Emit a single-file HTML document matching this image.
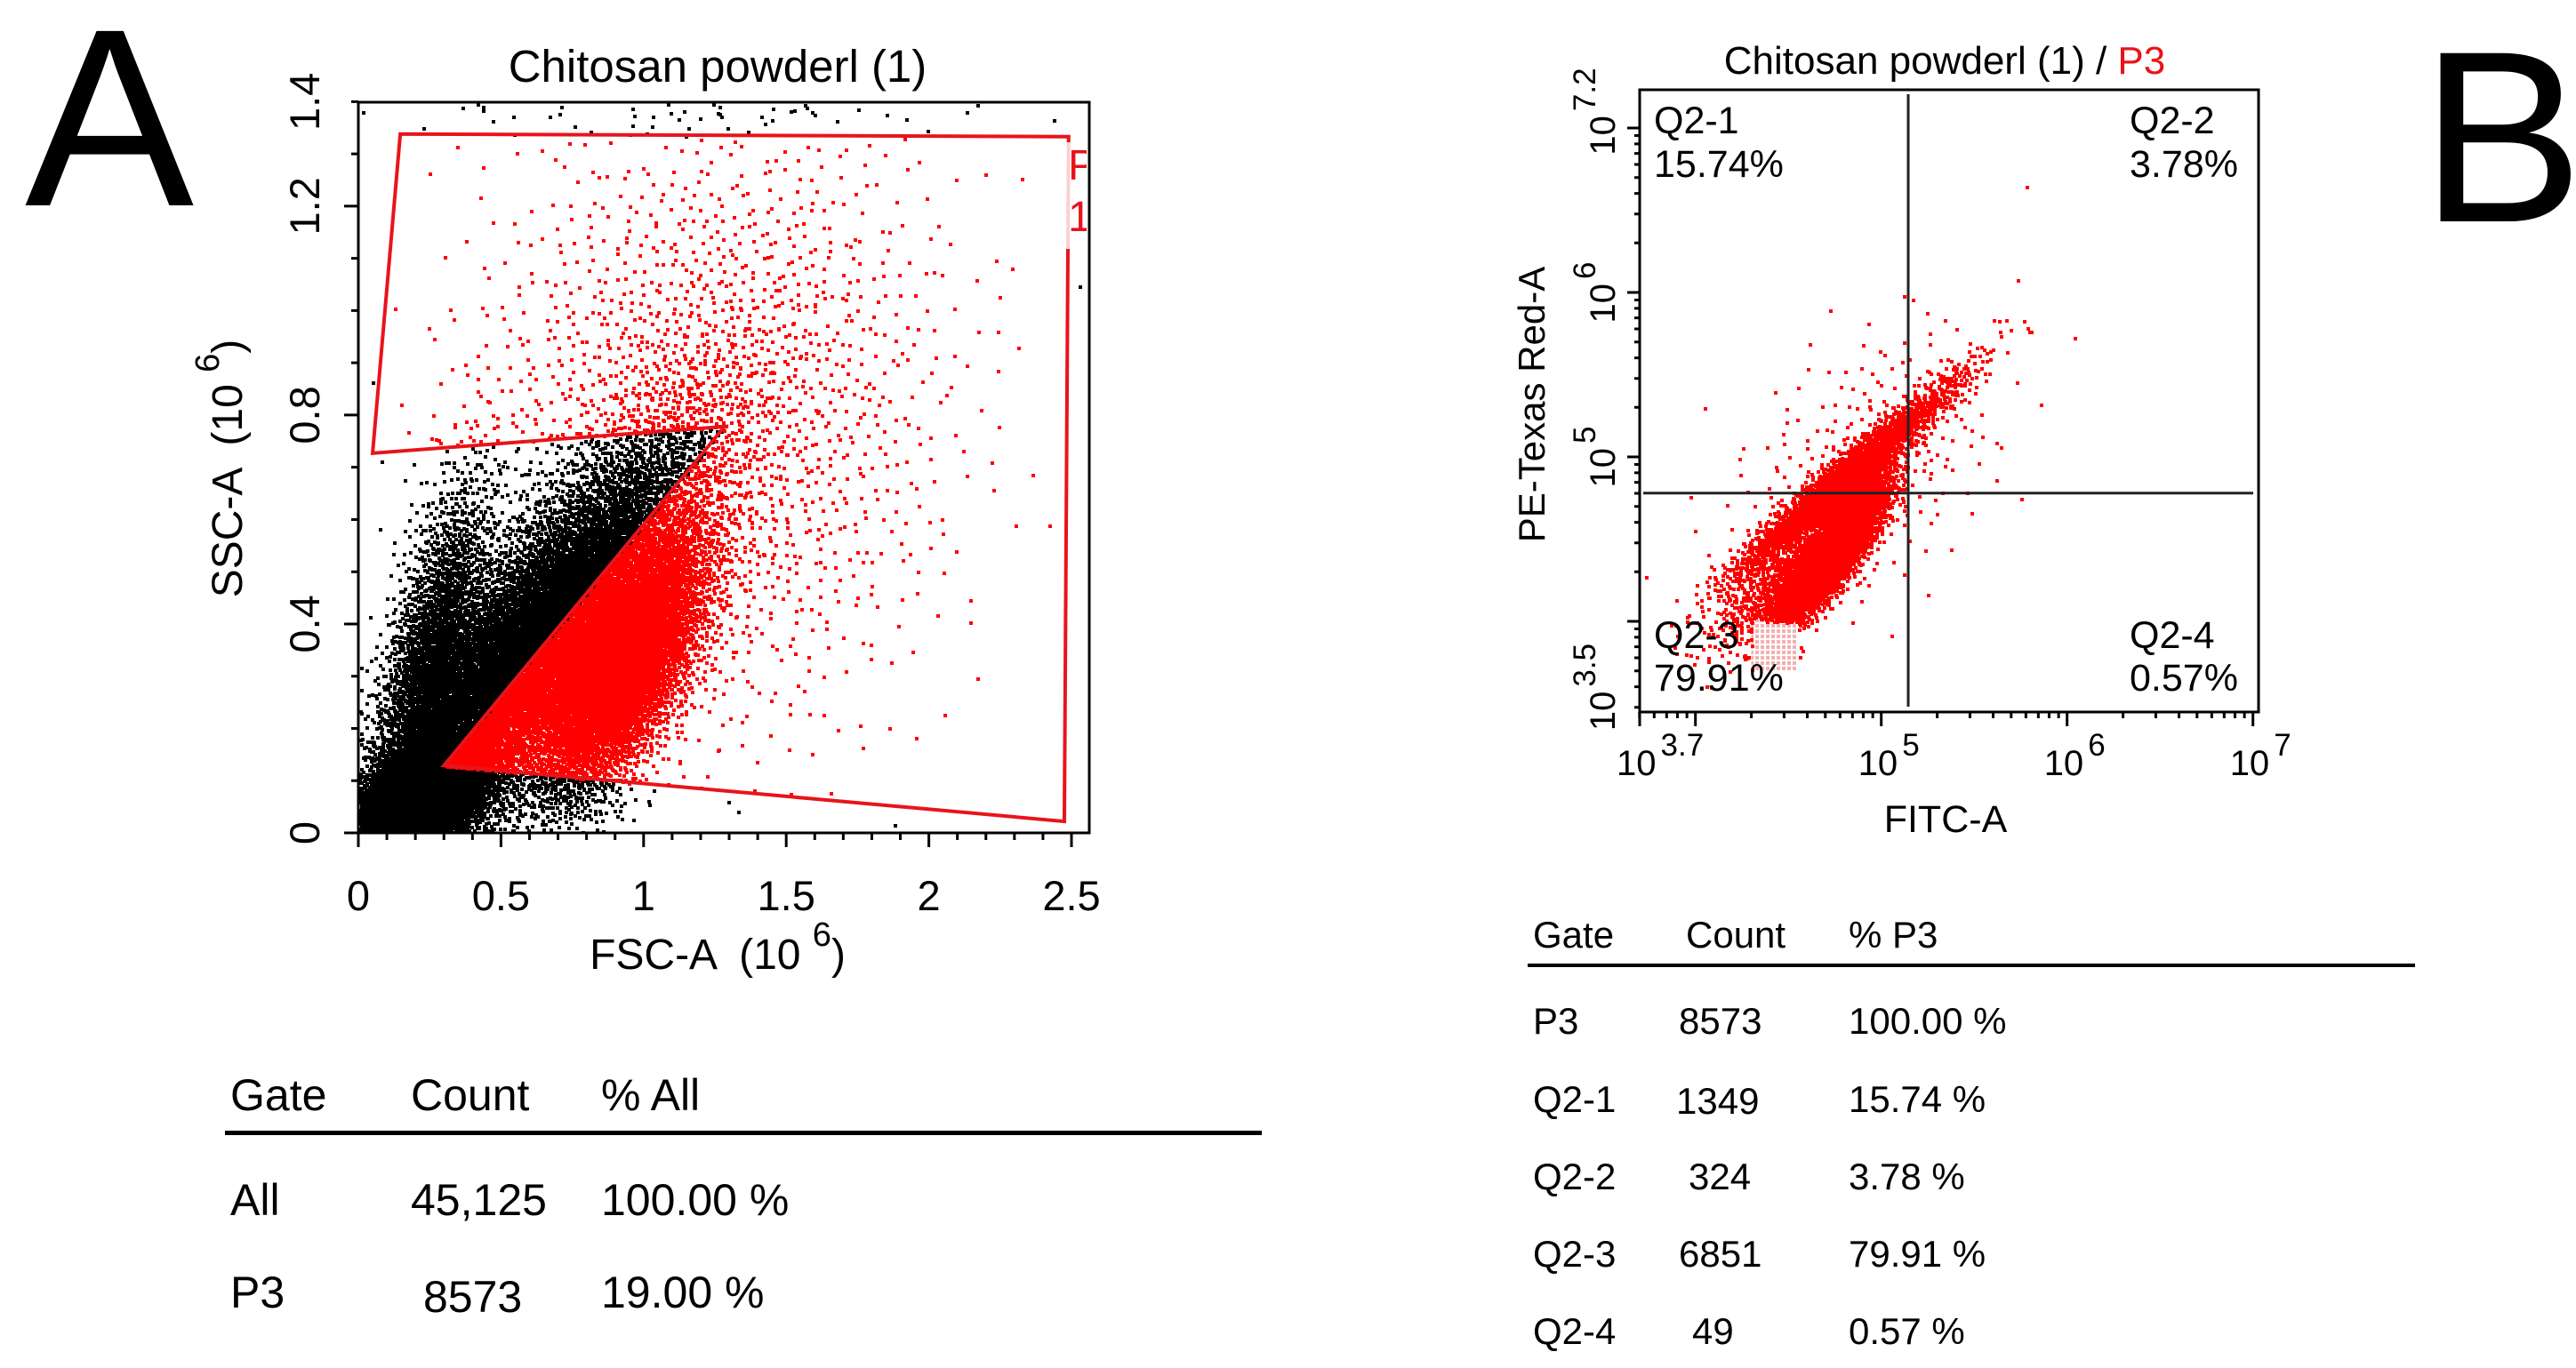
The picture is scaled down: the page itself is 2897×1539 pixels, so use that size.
<!DOCTYPE html>
<html><head><meta charset="utf-8">
<style>
html,body{margin:0;padding:0;background:#fff;}
svg{display:block;font-family:"Liberation Sans",sans-serif;}
</style></head>
<body>
<svg id="fig" width="2897" height="1539" viewBox="0 0 2897 1539" xmlns="http://www.w3.org/2000/svg">
  <defs>
    <clipPath id="clipA"><rect x="403" y="115" width="822" height="822"/></clipPath>
    <clipPath id="clipB"><rect x="1844" y="101" width="696" height="700"/></clipPath>
    <clipPath id="clipLbl"><rect x="1190" y="150" width="32" height="140"/></clipPath>
    <pattern id="hatch" width="6" height="6" patternUnits="userSpaceOnUse">
      <rect width="6" height="6" fill="#fff"/>
      <rect width="4" height="4" fill="#f3b0b0"/>
    </pattern>
  </defs>

  <text x="28" y="231" font-size="285">A</text>
  <text x="2722" y="249" font-size="275">B</text>

  <!-- Panel A -->
  <g id="panelA">
    <text x="807" y="92" font-size="51" text-anchor="middle">Chitosan powderl (1)</text>
    <g clip-path="url(#clipA)">
      <path id="dotsAblack" fill="#000"/>
      <path id="dotsAred" fill="#f00"/>
      <polygon id="gateA" fill="none" stroke="#e8141b" stroke-width="4"/>
      <g clip-path="url(#clipLbl)">
        <rect x="1194" y="160" width="28" height="120" fill="#fff" opacity="0.8"/>
        <text x="1201" y="202" font-size="48" fill="#e8141b">P</text>
        <text x="1201" y="260" font-size="48" fill="#e8141b">1</text>
      </g>
    </g>
    <rect x="403" y="115" width="822" height="822" fill="none" stroke="#000" stroke-width="3"/>
    <g id="axesA"></g>
    <text x="807" y="1090" font-size="48" text-anchor="middle" xml:space="preserve">FSC-A  (10 <tspan dy="-26" font-size="38">6</tspan><tspan dy="26">)</tspan></text>
    <text transform="translate(272,527) rotate(-90)" font-size="48" text-anchor="middle" xml:space="preserve">SSC-A  (10 <tspan dy="-26" font-size="38">6</tspan><tspan dy="26">)</tspan></text>
  </g>

  <!-- Panel B -->
  <g id="panelB">
    <text x="2187" y="83" font-size="44" text-anchor="middle">Chitosan powderl (1) / <tspan fill="#e8141b">P3</tspan></text>
    <g clip-path="url(#clipB)">
      <rect id="pinkB" fill="url(#hatch)"/>
      <path id="dotsB" fill="#f00"/>
    </g>
    <line id="qv" stroke="#222" stroke-width="3"/>
    <line id="qh" stroke="#222" stroke-width="3"/>
    <rect x="1844" y="101" width="696" height="700" fill="none" stroke="#000" stroke-width="3"/>
    <g font-size="43">
      <text x="1860" y="150">Q2-1</text>
      <text x="1860" y="199">15.74%</text>
      <text x="2395" y="150">Q2-2</text>
      <text x="2395" y="199">3.78%</text>
      <text x="1860" y="729">Q2-3</text>
      <text x="1860" y="777">79.91%</text>
      <text x="2395" y="729">Q2-4</text>
      <text x="2395" y="777">0.57%</text>
    </g>
    <g id="axesB"></g>
    <text x="2188" y="936" font-size="43" text-anchor="middle">FITC-A</text>
    <text transform="translate(1737,455) rotate(-90)" font-size="42" text-anchor="middle">PE-Texas Red-A</text>
  </g>

  <!-- Table A -->
  <g font-size="50">
    <text x="259" y="1249">Gate</text>
    <text x="462" y="1249">Count</text>
    <text x="676" y="1249">% All</text>
    <rect x="253" y="1272" width="1166" height="5" fill="#000"/>
    <text x="259" y="1367">All</text>
    <text x="462" y="1367">45,125</text>
    <text x="676" y="1367">100.00 %</text>
    <text x="259" y="1471">P3</text>
    <text x="476" y="1476">8573</text>
    <text x="676" y="1471">19.00 %</text>
  </g>

  <!-- Table B -->
  <g font-size="42">
    <text x="1724" y="1066">Gate</text>
    <text x="1896" y="1066">Count</text>
    <text x="2079" y="1066">% P3</text>
    <rect x="1718" y="1084" width="998" height="4" fill="#000"/>
    <text x="1724" y="1163">P3</text>
    <text x="1888" y="1163">8573</text>
    <text x="2079" y="1163">100.00 %</text>
    <text x="1724" y="1251">Q2-1</text>
    <text x="1885" y="1253">1349</text>
    <text x="2079" y="1251">15.74 %</text>
    <text x="1724" y="1338">Q2-2</text>
    <text x="1899" y="1338">324</text>
    <text x="2079" y="1338">3.78 %</text>
    <text x="1724" y="1425">Q2-3</text>
    <text x="1888" y="1425">6851</text>
    <text x="2079" y="1425">79.91 %</text>
    <text x="1724" y="1512">Q2-4</text>
    <text x="1903" y="1512">49</text>
    <text x="2079" y="1512">0.57 %</text>
  </g>
</svg>
<script>
// ---- Panel A data (FSC-A, SSC-A in 10^6 units) ----
const aXTicks = [0, 0.5, 1, 1.5, 2, 2.5];
const aXTickLabels = ["0", "0.5", "1", "1.5", "2", "2.5"];
const aYTicks = [0, 0.4, 0.8, 1.2, 1.4];
const aYTickLabels = ["0", "0.4", "0.8", "1.2", "1.4"];
const gateFsc = [0.147, 2.49, 2.475, 0.30, 1.284, 0.05];
const gateSsc = [1.338, 1.333, 0.022, 0.129, 0.778, 0.727];
// population clusters: centre, spread, correlation, event count
const popAcx = [0.20, 0.62, 0.92, 1.20, 1.20, 0.25];
const popAcy = [0.06, 0.36, 0.32, 0.78, 1.38, 0.30];
const popAsx = [0.12, 0.28, 0.15, 0.42, 0.60, 0.10];
const popAsy = [0.06, 0.20, 0.13, 0.30, 0.015, 0.18];
const popArho = [0.5, 0.8, 0.65, 0.1, 0.0, 0.6];
const popAn = [7000, 11000, 6000, 1800, 40, 3000];

// ---- Panel B data (log10 FITC-A, log10 PE-Texas Red-A) ----
const bXTickLabels = ["3.7", "5", "6", "7"];
const bXTickVals = [3.7, 5, 6, 7];
const bYTickLabels = ["7.2", "6", "5", "3.5"];
const bYTickVals = [7.1, 6, 5, 3.6];
const quadX = 5.145;
const quadY = 4.78;
const popBcx = [4.80, 4.72, 4.90, 4.45];
const popBcy = [4.88, 4.42, 4.95, 4.22];
const popBsx = [0.30, 0.15, 0.38, 0.20];
const popBsy = [0.30, 0.22, 0.45, 0.20];
const popBrho = [0.965, 0.85, 0.5, 0.75];
const popBn = [2400, 4200, 300, 600];
const pinkX = [4.30, 4.55];
const pinkY = [3.70, 4.05];

const NS = "http://www.w3.org/2000/svg";
const xA = v => 403 + v * 320.8;
const yA = v => 937 - v * 587.6;
const xB = v => 1844 + (v - 3.7) * 209;
const yB = v => 699 - (v - 4) * 185;

function halton(i, b) { let f = 1, r = 0; while (i > 0) { f /= b; r += f * (i % b); i = Math.floor(i / b); } return r; }
function gauss(i, k) {
  const u1 = Math.max(1e-6, halton(i + 1 + k * 7919, 2)), u2 = halton(i + 1 + k * 7919, 3);
  const r = Math.sqrt(-2 * Math.log(u1));
  return [r * Math.cos(2 * Math.PI * u2), r * Math.sin(2 * Math.PI * u2)];
}
function inPoly(px, py, xs, ys) {
  let c = false;
  for (let i = 0, j = xs.length - 1; i < xs.length; j = i++) {
    if (((ys[i] > py) !== (ys[j] > py)) && (px < (xs[j] - xs[i]) * (py - ys[i]) / (ys[j] - ys[i]) + xs[i])) c = !c;
  }
  return c;
}
function mk(tag, attrs, parent) {
  const e = document.createElementNS(NS, tag);
  for (const k in attrs) e.setAttribute(k, attrs[k]);
  parent.appendChild(e); return e;
}

// Panel A gate + events
document.getElementById('gateA').setAttribute('points', gateFsc.map((v, i) => xA(v) + ',' + yA(gateSsc[i])).join(' '));
let dBlack = "", dRed = "";
for (let c = 0; c < popAn.length; c++) {
  const rho = popArho[c], q = Math.sqrt(1 - rho * rho);
  for (let i = 0; i < popAn[c]; i++) {
    const [z1, z2] = gauss(i, c);
    const fx = popAcx[c] + popAsx[c] * z1;
    const fy = popAcy[c] + popAsy[c] * (rho * z1 + q * z2);
    if (fx < 0 || fy < 0 || fx > 2.56 || fy > 1.4) continue;
    const seg = "M" + xA(fx).toFixed(0) + " " + yA(fy).toFixed(0) + "h4v4h-4z";
    if (inPoly(fx, fy, gateFsc, gateSsc)) dRed += seg; else dBlack += seg;
  }
}
document.getElementById('dotsAblack').setAttribute('d', dBlack);
document.getElementById('dotsAred').setAttribute('d', dRed);

// Panel A axes
const gA = document.getElementById('axesA');
let tk = "";
for (let v = 0; v <= 2.55; v += 0.1) { tk += "M" + xA(v) + " 937v" + (Math.abs(v * 2 - Math.round(v * 2)) < 1e-6 ? 16 : 8); }
for (let v = 0; v <= 1.401; v += 0.1) { tk += "M403 " + yA(v) + "h" + (Math.abs(v * 2.5 - Math.round(v * 2.5)) < 1e-6 ? -16 : -8); }
const tpA = mk('path', { d: tk, stroke: '#000', 'stroke-width': 3, fill: 'none' }, gA);


aXTicks.forEach((v, i) => {
  const t = mk('text', { x: xA(v), y: 1024, 'font-size': 47, 'text-anchor': 'middle' }, gA);
  t.textContent = aXTickLabels[i];
  
  
});
aYTicks.forEach((v, i) => {
  const t = mk('text', { transform: 'translate(359,' + yA(v) + ') rotate(-90)', 'font-size': 47, 'text-anchor': 'middle' }, gA);
  t.textContent = aYTickLabels[i];
  
  
});

// Panel B events
const pk = document.getElementById('pinkB');
pk.setAttribute('x', xB(pinkX[0])); pk.setAttribute('width', xB(pinkX[1]) - xB(pinkX[0]));
pk.setAttribute('y', yB(pinkY[1])); pk.setAttribute('height', yB(pinkY[0]) - yB(pinkY[1]));
let dB = "";
for (let c = 0; c < popBn.length; c++) {
  const rho = popBrho[c], q = Math.sqrt(1 - rho * rho);
  for (let i = 0; i < popBn[c]; i++) {
    const [z1, z2] = gauss(i, c + 10);
    const lx = popBcx[c] + popBsx[c] * z1;
    const ly = popBcy[c] + popBsy[c] * (rho * z1 + q * z2);
    if (ly < 4.0 && lx < 4.55 && lx > 4.3) continue;
    dB += "M" + xB(lx).toFixed(0) + " " + yB(ly).toFixed(0) + "h4v4h-4z";
  }
}
document.getElementById('dotsB').setAttribute('d', dB);
const qv = document.getElementById('qv');
qv.setAttribute('x1', xB(quadX)); qv.setAttribute('x2', xB(quadX)); qv.setAttribute('y1', 106); qv.setAttribute('y2', 795);
const qh = document.getElementById('qh');
qh.setAttribute('y1', yB(quadY)); qh.setAttribute('y2', yB(quadY)); qh.setAttribute('x1', 1848); qh.setAttribute('x2', 2534);

// Panel B axes (log ticks)
const gB = document.getElementById('axesB');
let tb = "";
for (let d = 3; d <= 7; d++) {
  for (let k = 1; k <= 9; k++) {
    const lv = d + Math.log10(k);
    if (lv >= 3.69 && lv <= 7.01) tb += "M" + xB(lv) + " 801v" + (k === 1 ? 16 : 7);
    if (lv >= 3.44 && lv <= 7.23) tb += "M1844 " + yB(lv) + "h" + (k === 1 ? -14 : -6);
  }
}
tb += "M" + xB(3.7) + " 801v16";
const tpB = mk('path', { d: tb, stroke: '#000', 'stroke-width': 3, fill: 'none' }, gB);


bXTickVals.forEach((v, i) => {
  const t = mk('text', { x: xB(v) - 26, y: 872, 'font-size': 40 }, gB);
  t.textContent = "10";
  const s = mk('tspan', { dy: -22, 'font-size': 35, dx: 5 }, t);
  s.textContent = bXTickLabels[i];
  
  
});
bYTickVals.forEach((v, i) => {
  const t = mk('text', { transform: 'translate(1816,' + yB(v) + ') rotate(-90)', 'font-size': 40, 'text-anchor': 'middle' }, gB);
  t.textContent = "10";
  const s = mk('tspan', { dy: -22, 'font-size': 35, dx: 5 }, t);
  s.textContent = bYTickLabels[i];
  
  
});
</script>
</body></html>
